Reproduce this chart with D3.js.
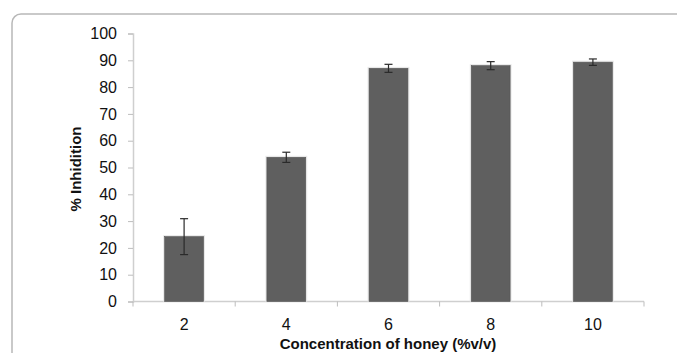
<!DOCTYPE html>
<html>
<head>
<meta charset="utf-8">
<script src="https://cdn.jsdelivr.net/npm/d3@7.9.0/dist/d3.min.js"></script>
<style>
  body { margin: 0; background: #fff; }
  svg { display: block; font-family: "Liberation Sans", Arial, sans-serif; }
</style>
</head>
<body>
<svg id="chart" width="677" height="353"></svg>
<script>
const concentrations = ["2", "4", "6", "8", "10"];
const inhibition = [24.2, 53.8, 87.0, 88.0, 89.3];
const errors = [6.7, 1.9, 1.5, 1.5, 1.2];
const yTicks = [0, 10, 20, 30, 40, 50, 60, 70, 80, 90, 100];

const svg = d3.select("#chart");

// outer rounded frame, runs off the right and bottom edges
svg.append("rect")
  .attr("x", 12).attr("y", 14)
  .attr("width", 700).attr("height", 400)
  .attr("rx", 9)
  .attr("fill", "none")
  .attr("stroke", "#b8b8b8")
  .attr("stroke-width", 1.5);

const x = d3.scaleBand().domain(concentrations).range([133, 644]).paddingInner(0.62).paddingOuter(0.31);
const y = d3.scaleLinear().domain([0, 100]).range([301.5, 33.5]);

// y axis
const yAxis = svg.append("g")
  .attr("transform", "translate(133,0)")
  .call(d3.axisLeft(y).tickValues(yTicks).tickSize(5).tickPadding(11));
yAxis.select(".domain").attr("stroke", "#cfcfcf").attr("stroke-width", 1.5);
yAxis.selectAll(".tick line").attr("stroke", "#bdbdbd");
yAxis.selectAll(".tick text")
  .attr("font-size", 16).attr("fill", "#111")
  .attr("font-family", "Liberation Sans, Arial, sans-serif");

// x axis with ticks between categories
const xLine = d3.scaleLinear().domain([0, concentrations.length]).range([133, 644]);
const xAxis = svg.append("g").attr("transform", "translate(0,301.5)");
xAxis.append("line")
  .attr("x1", xLine(0)).attr("x2", xLine(concentrations.length))
  .attr("stroke", "#cfcfcf").attr("stroke-width", 1.5);
xAxis.selectAll(".tk")
  .data(d3.range(concentrations.length + 1))
  .join("line")
  .attr("x1", d => xLine(d)).attr("x2", d => xLine(d))
  .attr("y1", 0).attr("y2", 5)
  .attr("stroke", "#bdbdbd");
xAxis.selectAll(".lbl")
  .data(concentrations)
  .join("text")
  .attr("x", d => x(d) + x.bandwidth() / 2)
  .attr("y", 28)
  .attr("text-anchor", "middle")
  .attr("font-size", 16)
  .attr("fill", "#111")
  .text(d => d);

// bars with a faint halo
const bars = svg.append("g");
bars.selectAll(".halo")
  .data(inhibition)
  .join("rect")
  .attr("x", (d, i) => x(concentrations[i]) - 1.5)
  .attr("y", d => y(d) - 1.5)
  .attr("width", x.bandwidth() + 3)
  .attr("height", d => y(0) - y(d) + 1.5)
  .attr("fill", "#e8e8e8");
bars.selectAll(".bar")
  .data(inhibition)
  .join("rect")
  .attr("x", (d, i) => x(concentrations[i]))
  .attr("y", d => y(d))
  .attr("width", x.bandwidth())
  .attr("height", d => y(0) - y(d))
  .attr("fill", "#5f5f5f")
  .attr("stroke", "#555")
  .attr("stroke-width", 0.6);

// error bars
const err = svg.append("g").attr("stroke", "#2a2a2a").attr("stroke-width", 1.2);
inhibition.forEach((v, i) => {
  const cx = x(concentrations[i]) + x.bandwidth() / 2;
  const top = y(v + errors[i]), bot = y(v - errors[i]);
  err.append("line").attr("x1", cx).attr("x2", cx).attr("y1", top).attr("y2", bot);
  err.append("line").attr("x1", cx - 4).attr("x2", cx + 4).attr("y1", top).attr("y2", top);
  err.append("line").attr("x1", cx - 4).attr("x2", cx + 4).attr("y1", bot).attr("y2", bot);
});

// axis titles
svg.append("text")
  .attr("transform", "translate(81,169) rotate(-90)")
  .attr("text-anchor", "middle")
  .attr("font-size", 15)
  .attr("font-weight", "bold")
  .attr("fill", "#111")
  .text("% Inhidition");

svg.append("text")
  .attr("x", 388)
  .attr("y", 349)
  .attr("text-anchor", "middle")
  .attr("font-size", 15)
  .attr("font-weight", "bold")
  .attr("fill", "#111")
  .text("Concentration of honey (%v/v)");
</script>
</body>
</html>
